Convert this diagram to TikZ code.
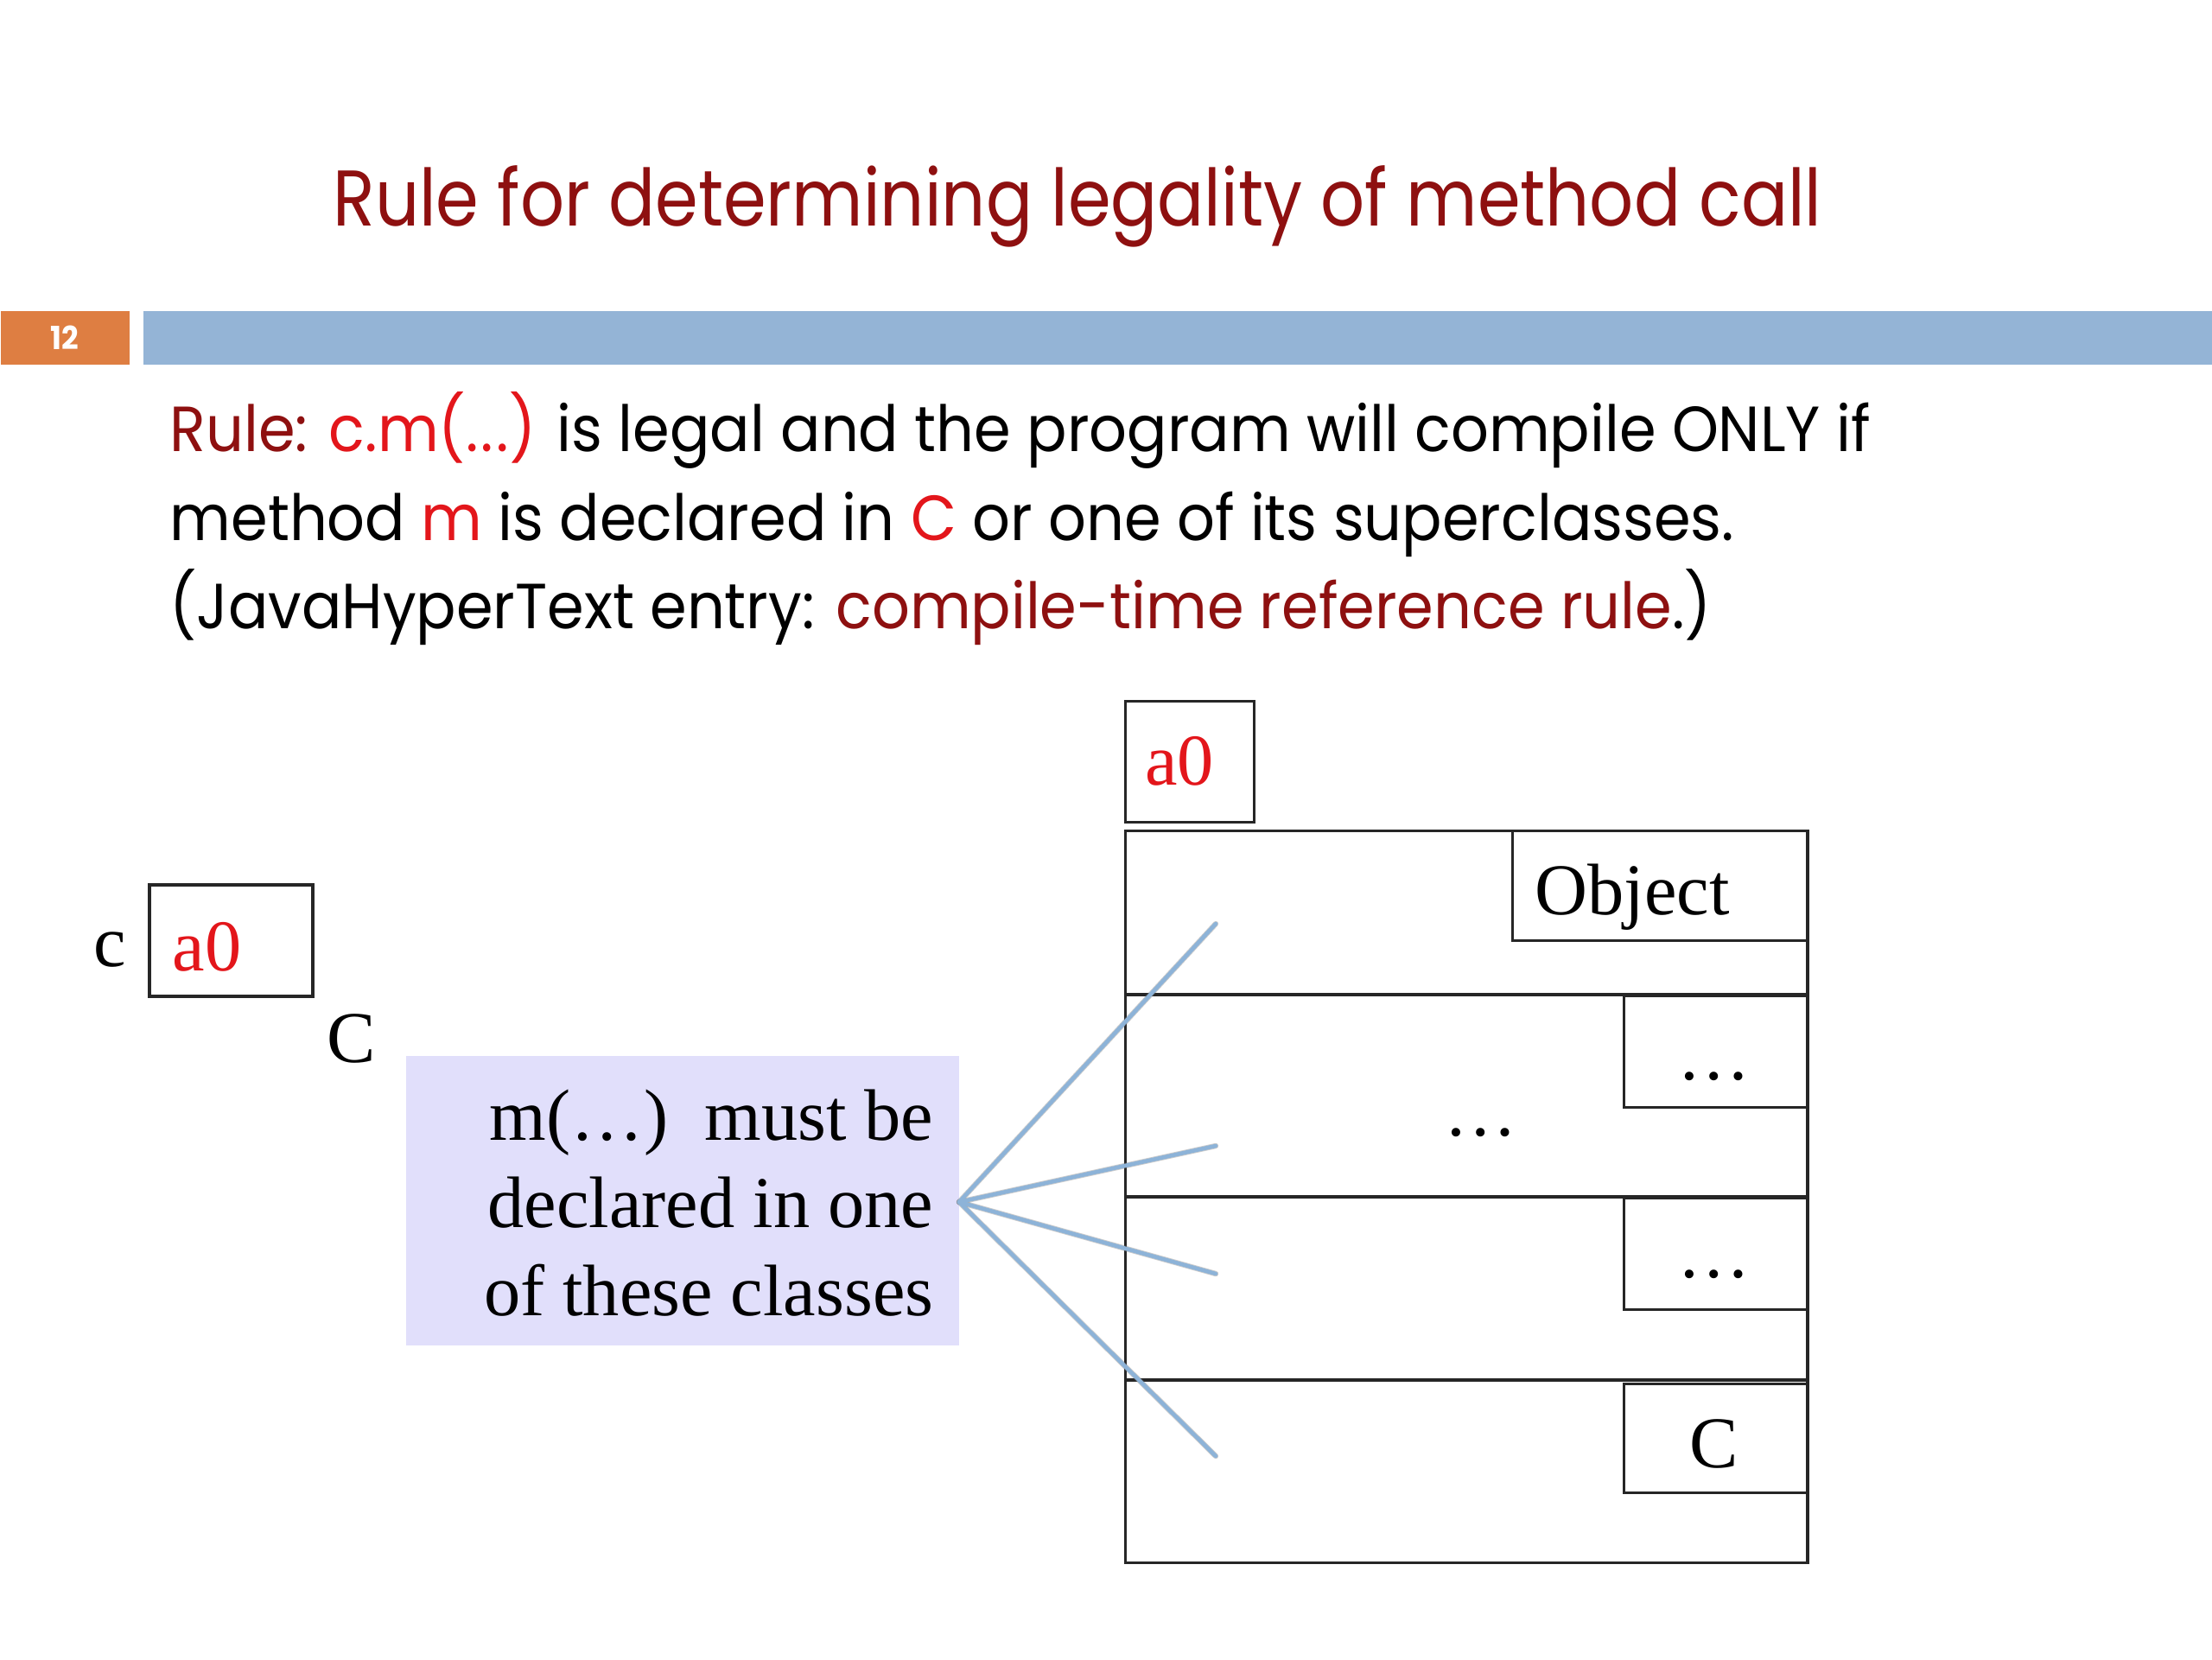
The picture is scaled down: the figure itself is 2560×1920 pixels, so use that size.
\documentclass[tikz,border=0pt]{standalone}
\usepackage{fontspec}
\setmainfont{Liberation Serif}
\newfontfamily\gothic[FakeStretch=0.93]{Poppins}
\newfontfamily\gothictitle[FakeStretch=0.875]{Poppins}
\definecolor{titlered}{HTML}{8E1010}
\definecolor{brightred}{HTML}{E3161B}
\definecolor{barorange}{HTML}{DE7E42}
\definecolor{barblue}{HTML}{94B4D6}
\definecolor{lavender}{HTML}{E1DFFB}
\definecolor{ray}{HTML}{8DB3D8}
\tikzset{
  gtext/.style={inner sep=0, font=\gothic\fontsize{21}{25}\selectfont, anchor=base west},
  serif/.style={inner sep=0, font=\fontsize{24}{29}\selectfont},
  cell/.style={draw=black!85, line width=0.9pt, inner sep=0},
  raystyle/.style={draw=ray, line width=1.3pt, line cap=round},
  rayshadow/.style={draw=black!50, opacity=0.4, line width=1.8pt, line cap=round},
}
\begin{document}
\begin{tikzpicture}[x=0.01cm,y=-0.01cm]
\useasboundingbox (0,0) rectangle (2560,1920);
\fill[white] (0,0) rectangle (2560,1920);

% title
\node[inner sep=0, anchor=base, font=\gothictitle\fontsize{26}{31}\selectfont, text=titlered] (title) at (1247,261) {Rule for determining legality of method call};

% bars
\node[fill=barorange, minimum width=1.49cm, minimum height=0.62cm, inner sep=0, anchor=north west, text=white, font=\gothic\bfseries\fontsize{10.5}{12}\selectfont] (num) at (0,359) {12};
\node[fill=barblue, minimum width=23.95cm, minimum height=0.62cm, inner sep=0, anchor=north west] (bar) at (165,359) {};

% body text
\node[gtext] (l1) at (196,522) {\textcolor{titlered}{Rule:} \textcolor{brightred}{c.m(.\kern1pt.\kern1pt.)} is legal and the program will compile ONLY if};
\node[gtext] (l2) at (196,625) {method \textcolor{brightred}{m} is declared in \textcolor{brightred}{C} or one of its superclasses.};
\node[gtext] (l3) at (196,727) {(JavaHyperText entry: \textcolor{titlered}{compile-time reference rule}.)};

% variable c
\node[cell, minimum width=1.89cm, minimum height=1.29cm] (cbox) at (267.5,1088.5) {};
\node[serif, anchor=base west, text=brightred] (cval) at (199,1123) {a0};
\node[serif, anchor=base] (clabel) at (127,1118) {c};
\node[serif, anchor=base] (ctype) at (407,1229) {C};

% lavender note
\node[fill=lavender, minimum width=6.4cm, minimum height=3.35cm, anchor=north west, inner sep=0] (note) at (469,1221) {};
\node[serif, anchor=base east] (n1) at (1081,1319) {m(…)\ \ must be};
\node[serif, anchor=base east] (n2) at (1081,1420) {declared in one};
\node[serif, anchor=base east] (n3) at (1081,1522) {of these classes};

% object name tab
\node[cell, minimum width=1.49cm, minimum height=1.40cm, anchor=north west] (objname) at (1301,810) {};
\node[serif, anchor=base, text=brightred] (objval) at (1365,908) {a0};

% object box
\node[cell, minimum width=7.89cm, minimum height=8.46cm, anchor=north west] (obj) at (1301,960) {};
\draw[black!85, line width=0.9pt] (obj.west |- 0,1151) coordinate (d1l) -- (obj.east |- 0,1151) coordinate (d1r);
\draw[black!85, line width=0.9pt] (obj.west |- 0,1385) coordinate (d2l) -- (obj.east |- 0,1385) coordinate (d2r);
\draw[black!85, line width=0.9pt] (obj.west |- 0,1597) coordinate (d3l) -- (obj.east |- 0,1597) coordinate (d3r);

\node[cell, fill=white, minimum width=3.41cm, minimum height=1.27cm, anchor=north west] (objcls) at (1749,960) {};
\node[serif, anchor=base west] (objtxt) at (1776,1058) {Object};
\node[cell, fill=white, minimum width=2.12cm, minimum height=1.29cm, anchor=north west] (dots1) at (1878,1151) {};
\node[serif, anchor=base] (dots1t) at (1984,1249) {…};
\node[cell, fill=white, minimum width=2.12cm, minimum height=1.29cm, anchor=north west] (dots2) at (1878,1385) {};
\node[serif, anchor=base] (dots2t) at (1984,1478) {…};
\node[cell, fill=white, minimum width=2.12cm, minimum height=1.26cm, anchor=north west] (cls) at (1878,1600) {};
\node[serif, anchor=base] (clstxt) at (1984,1698) {C};
\node[serif, anchor=base] (middots) at (1714,1314) {…};

% rays
\coordinate (src) at (1110,1391);
\coordinate (e1) at (1407,1069);
\coordinate (e2) at (1407,1326);
\coordinate (e3) at (1407,1474);
\coordinate (e4) at (1407,1685);
\begin{scope}[shift={(3,4)}]
\foreach \e in {e1,e2,e3,e4} \draw[rayshadow] (src) -- (\e);
\end{scope}
\foreach \e in {e1,e2,e3,e4} \draw[raystyle] (src) -- (\e);
\end{tikzpicture}
\end{document}
